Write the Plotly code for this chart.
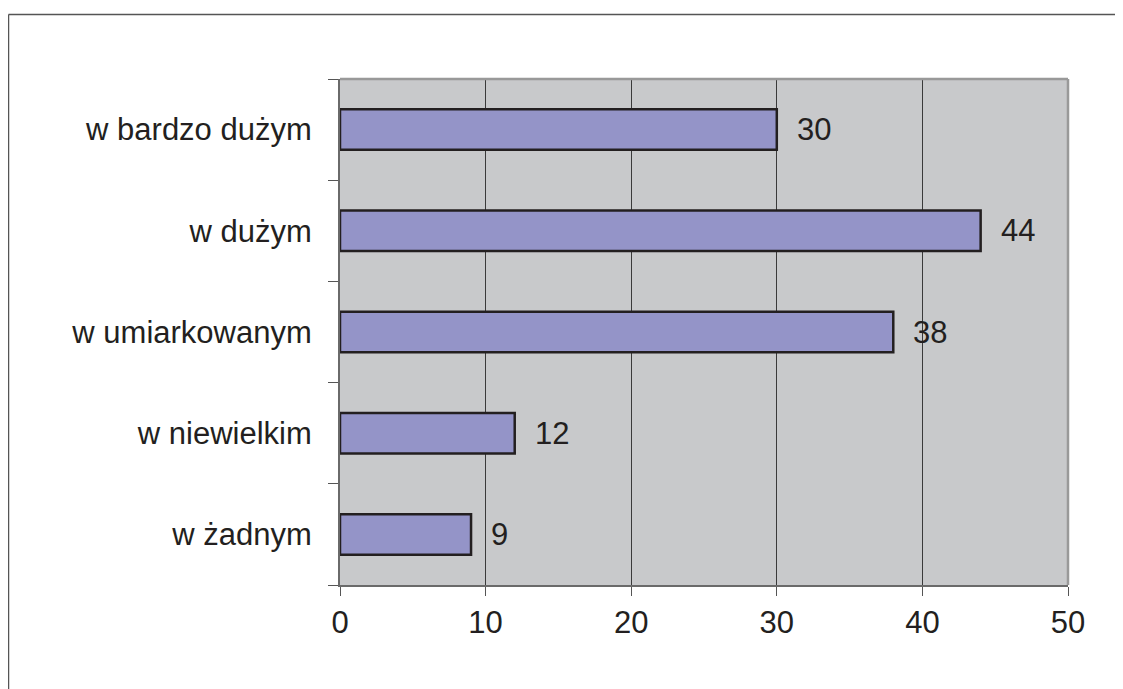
import plotly.graph_objects as go

categories = ["w bardzo dużym", "w dużym", "w umiarkowanym", "w niewielkim", "w żadnym"]
values = [30, 44, 38, 12, 9]
x_ticks = [0, 10, 20, 30, 40, 50]

cats_plot = categories[::-1]
vals_plot = values[::-1]

FONT = "Liberation Sans, Arial, sans-serif"
TXT = "#231F20"

fig = go.Figure()
fig.add_trace(go.Bar(
    x=vals_plot, y=cats_plot, orientation="h", width=0.4,
    marker=dict(color="#9494C8", line=dict(color=TXT, width=2.5)),
    hoverinfo="skip",
))

for c, v in zip(cats_plot, vals_plot):
    fig.add_annotation(x=v, y=c, text=str(v), showarrow=False, xanchor="left",
                       xshift=18, font=dict(size=31, color=TXT, family=FONT))

W, H = 1123, 689
# page body has an 8px offset; positions below are in figure coordinates
L, T = 332, 71
PR, PB = 1060, 577
R, B = W - PR, H - PB
pw, ph = PR - L, PB - T

def px(x):
    return (x - L) / pw

def py(y):
    return (PB - y) / ph

# outer frame (top and left edges)
fig.add_shape(type="line", xref="paper", yref="paper", x0=px(0.5), x1=px(1116), y0=py(6.5), y1=py(6.5),
              line=dict(color="#555555", width=1.5))
fig.add_shape(type="line", xref="paper", yref="paper", x0=px(0.5), x1=px(0.5), y0=py(6.5), y1=py(689),
              line=dict(color="#555555", width=1.5))
# plot area top/right border
fig.add_shape(type="line", xref="paper", yref="paper", x0=0, x1=1, y0=1, y1=1,
              line=dict(color="#999999", width=2.5), layer="above")
fig.add_shape(type="line", xref="paper", yref="paper", x0=1, x1=1, y0=0, y1=1,
              line=dict(color="#999999", width=2.5), layer="above")

fig.update_layout(
    width=W, height=H,
    margin=dict(l=L, r=R, t=T, b=B),
    paper_bgcolor="white",
    plot_bgcolor="#C8C9CB",
    showlegend=False,
    font=dict(family=FONT, size=31, color=TXT),
    bargap=0.6,
)
fig.update_xaxes(
    range=[0, 50], tickvals=x_ticks, ticktext=[str(t) for t in x_ticks],
    showgrid=True, gridcolor="#3a3a3a", gridwidth=1,
    showline=True, linecolor="#6a6a6a", linewidth=2,
    ticks="outside", ticklen=9, tickcolor="#555555", tickwidth=1,
    zeroline=False, ticklabelstandoff=0,
    tickfont=dict(size=31, color=TXT),
)
fig.update_yaxes(
    categoryorder="array", categoryarray=cats_plot,
    showgrid=False, showline=True, linecolor="#6a6a6a", linewidth=2,
    ticks="outside", ticklen=10, tickcolor="#555555", tickwidth=1,
    tickson="boundaries", ticklabelstandoff=20,
    tickfont=dict(size=31, color=TXT),
)

fig.write_html("out.html")
